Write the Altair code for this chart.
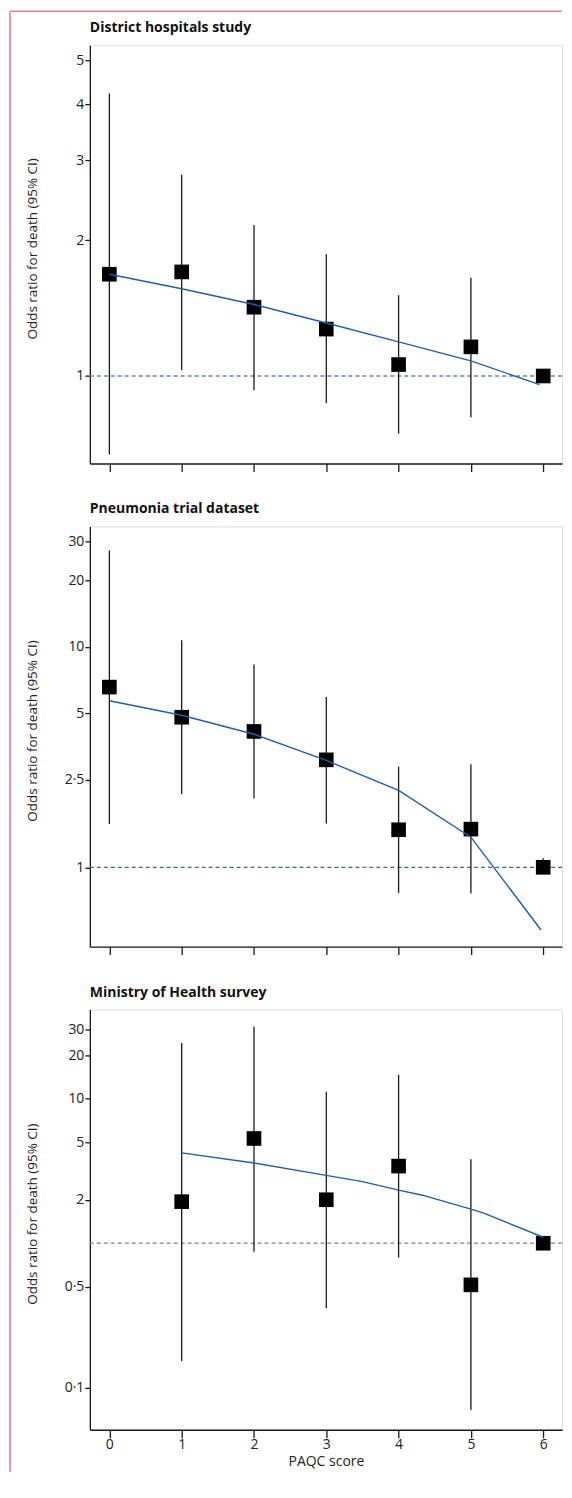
import altair as alt
import pandas as pd

# ---------------- data ----------------
score = [0, 1, 2, 3, 4, 5, 6]

# District hospitals study
dh_x = [0, 1, 2, 3, 4, 5, 6]
dh_or = [1.68, 1.70, 1.42, 1.27, 1.06, 1.16, 1.00]
dh_ci_x = [0, 1, 2, 3, 4, 5]
dh_lo = [0.67, 1.03, 0.93, 0.87, 0.745, 0.81]
dh_hi = [4.22, 2.79, 2.16, 1.86, 1.51, 1.65]
dh_fit_x = [0, 1, 2, 3, 4, 5, 5.95]
dh_fit = [1.68, 1.56, 1.44, 1.31, 1.19, 1.08, 0.957]
dh_ticks = [1, 2, 3, 4, 5]

# Pneumonia trial dataset
pn_x = [0, 1, 2, 3, 4, 5, 6]
pn_or = [6.56, 4.79, 4.13, 3.07, 1.48, 1.49, 1.00]
pn_ci_x = [0, 1, 2, 3, 4, 5, 6]
pn_lo = [1.57, 2.15, 2.05, 1.58, 0.766, 0.76, 0.95]
pn_hi = [27.3, 10.7, 8.3, 5.91, 2.86, 2.93, 1.10]
pn_fit_x = [0, 1, 2, 3, 4, 5, 5.97]
pn_fit = [5.69, 4.89, 4.01, 3.05, 2.23, 1.37, 0.52]
pn_ticks = [1, 2.5, 5, 10, 20, 30]

# Ministry of Health survey
mh_x = [1, 2, 3, 4, 5, 6]
mh_or = [1.94, 5.31, 2.00, 3.42, 0.515, 1.00]
mh_ci_x = [1, 2, 3, 4, 5]
mh_lo = [0.153, 0.874, 0.356, 0.795, 0.070]
mh_hi = [24.3, 31.5, 11.2, 14.6, 3.82]
mh_fit_x = [1, 2, 3, 3.5, 4, 4.33, 5, 5.17, 6]
mh_fit = [4.22, 3.59, 2.95, 2.67, 2.33, 2.15, 1.72, 1.62, 1.10]
mh_ticks = [0.1, 0.5, 2, 5, 10, 20, 30]

titles = ["District hospitals study", "Pneumonia trial dataset", "Ministry of Health survey"]
y_title = "Odds ratio for death (95% CI)"
x_title = "PAQC score"

# ---------------- styling ----------------
FONT = "Open Sans"
FS = 14
W = 473
H1, H2, H3 = 419, 421, 421
GAP = 63
TOP = -34
BOTTOM = H1 + GAP + H2 + GAP + H3 + 42
BLUE = "#1f5fa8"
PINK = "#d9839a"
INK = "#1a1a1a"


def panel(title, x, orv, cx, lo, hi, fx, fy, ticks, domain, height, dash_color, last,
          border=False):
    pts = pd.DataFrame({"x": x, "y": orv})
    ci = pd.DataFrame({"x": cx, "y": lo, "y2": hi})
    fit = pd.DataFrame({"x": fx, "y": fy})
    ref = pd.DataFrame({"y": [1.0]})
    ttl = pd.DataFrame({"t": [title]})

    xs = alt.Scale(domain=[-0.27, 6.26], nice=False, zero=False)
    ys = alt.Scale(type="log", domain=domain, nice=False, zero=False)

    xaxis = alt.Axis(
        values=score, grid=False, domainColor=INK, domainWidth=1.3,
        tickColor=INK, tickWidth=1.3, tickSize=8, labels=last,
        labelFont=FONT, labelFontSize=FS, labelColor="#222", labelPadding=0,
        titleFont=FONT, titleFontSize=FS, titleFontWeight="normal",
        titleColor="#222", titlePadding=3,
    )
    yaxis = alt.Axis(
        values=ticks, format="~g",
        labelExpr="replace(datum.label, '.', '\u00b7')",
        grid=False, domainColor=INK, domainWidth=1.3,
        tickColor=INK, tickWidth=1.3, tickSize=5,
        labelFont=FONT, labelFontSize=FS, labelColor="#222", labelPadding=1,
        titleFont=FONT, titleFontSize=13.5, titleFontWeight="normal", titleColor="#222",
        titleAngle=-90, titleX=-57, titleY=height / 2 - 6,
        titleAlign="center", titleBaseline="middle",
    )
    X = lambda: alt.X("x:Q", scale=xs, axis=xaxis, title=(x_title if last else None))
    Y = lambda: alt.Y("y:Q", scale=ys, axis=yaxis, title=y_title)

    refl = alt.Chart(ref).mark_rule(color=dash_color, strokeWidth=1.3, strokeDash=[4, 3]).encode(y=Y())
    cil = alt.Chart(ci).mark_rule(color=INK, strokeWidth=1.3).encode(x=X(), y=Y(), y2="y2:Q")
    sq = alt.Chart(pts).mark_square(size=215, color="#000", opacity=1, filled=True).encode(x=X(), y=Y())
    ln = alt.Chart(fit).mark_line(color=BLUE, strokeWidth=1.4).encode(x=X(), y=Y())
    tt = alt.Chart(ttl).mark_text(
        align="left", baseline="alphabetic", font=FONT, fontSize=FS,
        fontWeight="bold", color="#111"
    ).encode(x=alt.value(0), y=alt.value(-13), text="t:N")
    layers = [refl, cil, sq, ln, tt]
    if border:
        b = pd.DataFrame({"a": [0]})
        vb = alt.Chart(b).mark_rule(color=PINK, strokeWidth=1.6).encode(
            x=alt.value(-80), y=alt.value(TOP), y2=alt.value(BOTTOM))
        hb = alt.Chart(b).mark_rule(color=PINK, strokeWidth=1.6).encode(
            x=alt.value(-80), x2=alt.value(W), y=alt.value(TOP))
        layers = [vb, hb] + layers
    return alt.layer(*layers).properties(width=W, height=height)


p1 = panel(titles[0], dh_x, dh_or, dh_ci_x, dh_lo, dh_hi, dh_fit_x, dh_fit, dh_ticks,
           [0.64, 5.4], H1, "#6f8795", False, border=True)
p2 = panel(titles[1], pn_x, pn_or, pn_ci_x, pn_lo, pn_hi, pn_fit_x, pn_fit, pn_ticks,
           [0.437, 35.1], H2, "#3f6a8a", False)
p3 = panel(titles[2], mh_x, mh_or, mh_ci_x, mh_lo, mh_hi, mh_fit_x, mh_fit, mh_ticks,
           [0.0511, 41.5], H3, "#6f8795", True)

chart = alt.VConcatChart(vconcat=[p1, p2, p3], spacing=GAP, bounds="flush").resolve_scale(
    x="independent", y="independent"
).properties(padding=0).configure_view(strokeWidth=0).configure(background="white")

chart.save("out.html", embed_options={"renderer": "svg", "actions": False})
